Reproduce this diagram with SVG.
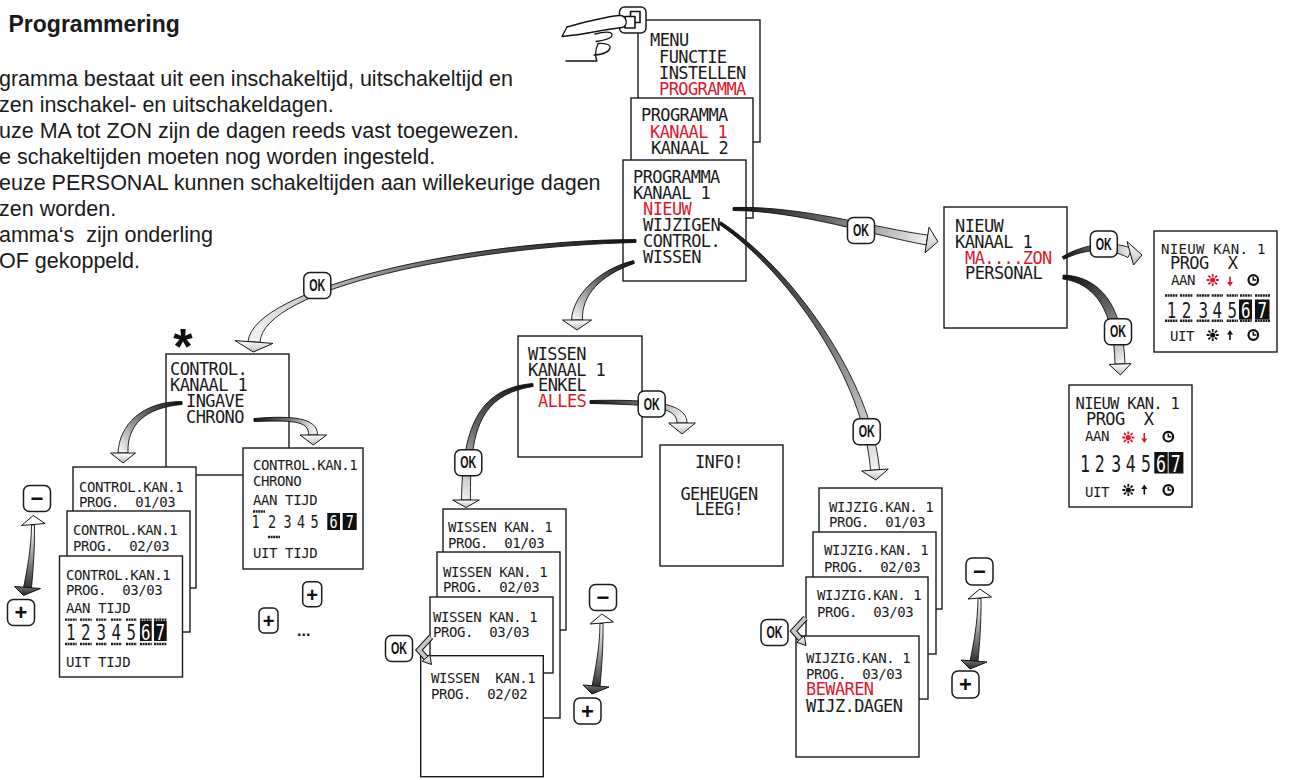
<svg xmlns="http://www.w3.org/2000/svg" width="1290" height="780" viewBox="0 0 1290 780">
<defs>
<style>
.scr{fill:#fff;stroke:#1a1a1a;stroke-width:1.4}
.lb{font-family:"DejaVu Sans Mono","Liberation Mono",monospace;font-size:17px;letter-spacing:-0.6px;fill:#1a1a1a}
.lm{font-family:"DejaVu Sans Mono","Liberation Mono",monospace;font-size:14px;letter-spacing:-0.4px;fill:#1a1a1a}
.r{fill:#e0162b}
.dg{font-family:"DejaVu Sans Mono","Liberation Mono",monospace;text-anchor:middle;fill:#1a1a1a}
.w{fill:#fff}
.blk{fill:#111}
.body{font-family:"Liberation Sans",Arial,sans-serif;font-size:21.5px;fill:#1a1a1a}
.title{font-family:"Liberation Sans",Arial,sans-serif;font-size:23px;font-weight:bold;fill:#1a1a1a}
.btn{fill:#fff;stroke:#1a1a1a;stroke-width:1.5}
.okt{font-family:"Liberation Sans",Arial,sans-serif;font-weight:bold;font-size:16px;fill:#111}
.pm{font-family:"Liberation Sans",Arial,sans-serif;font-weight:bold;font-size:22px;fill:#111;text-anchor:middle}
.band{stroke:#111;stroke-width:0.9}
.head{fill:url(#hg);stroke:#111;stroke-width:1}
.dash{stroke:#1a1a1a;stroke-width:2.4;stroke-dasharray:2 0.6;fill:none}
.ln{fill:none;stroke:#111;stroke-width:1.3;stroke-linecap:round;stroke-linejoin:round}
</style>
<linearGradient id="gb"><stop offset="0" stop-color="#111"/><stop offset="0.5" stop-color="#6a6a6a"/><stop offset="1" stop-color="#f2f2f2"/></linearGradient>
<linearGradient id="gA1" href="#gb" gradientUnits="userSpaceOnUse" x1="636" y1="241" x2="254" y2="342"/>
<linearGradient id="gA2" href="#gb" gradientUnits="userSpaceOnUse" x1="634" y1="262" x2="577" y2="320"/>
<linearGradient id="gA3" href="#gb" gradientUnits="userSpaceOnUse" x1="733" y1="209" x2="927" y2="240"/>
<linearGradient id="gA4" href="#gb" gradientUnits="userSpaceOnUse" x1="720" y1="223" x2="875" y2="470"/>
<linearGradient id="gA5" href="#gb" gradientUnits="userSpaceOnUse" x1="590" y1="402" x2="682" y2="423"/>
<linearGradient id="gA6" href="#gb" gradientUnits="userSpaceOnUse" x1="533" y1="385" x2="466" y2="500"/>
<linearGradient id="gA7" href="#gb" gradientUnits="userSpaceOnUse" x1="1063" y1="258" x2="1130" y2="253"/>
<linearGradient id="gA8" href="#gb" gradientUnits="userSpaceOnUse" x1="1063" y1="277" x2="1120" y2="364"/>
<linearGradient id="gA9" href="#gb" gradientUnits="userSpaceOnUse" x1="182" y1="403" x2="123" y2="453"/>
<linearGradient id="gA10" href="#gb" gradientUnits="userSpaceOnUse" x1="254" y1="420" x2="313" y2="435"/>
<linearGradient id="hg" x1="0" y1="0" x2="0" y2="1"><stop offset="0" stop-color="#fff"/><stop offset="1" stop-color="#bdbdbd"/></linearGradient>
<linearGradient id="dgr" x1="0" y1="0" x2="0" y2="1"><stop offset="0" stop-color="#fff"/><stop offset="1" stop-color="#333"/></linearGradient>
<linearGradient id="dk" x1="0" y1="0" x2="0" y2="1"><stop offset="0" stop-color="#777"/><stop offset="1" stop-color="#222"/></linearGradient>
<g id="sun" fill="currentColor" stroke="currentColor"><circle r="2.6" stroke="none"/><path d="M0,-6V-3.2M0,6V3.2M-6,0H-3.2M6,0H3.2M-4.3,-4.3L-2.3,-2.3M4.3,4.3L2.3,2.3M4.3,-4.3L2.3,-2.3M-4.3,4.3L-2.3,2.3" stroke-width="1.8"/></g>
<g id="adn" fill="currentColor" stroke="currentColor"><path d="M0,-5V1.5" stroke-width="1.6"/><path d="M-3,0.5H3L0,5Z" stroke="none"/></g>
<g id="aup" fill="currentColor" stroke="currentColor"><path d="M0,5V-1.5" stroke-width="1.6"/><path d="M-3,-0.5H3L0,-5Z" stroke="none"/></g>
<g id="clk"><circle r="4.8" fill="#fff" stroke="#111" stroke-width="2.2"/><path d="M0,-3V0H3" fill="none" stroke="#111" stroke-width="1.6"/></g>
<g id="dbl">
<path class="band" fill="url(#dgr)" d="M31.5,525 C31.2,550 27,570 23.5,588 L31.5,588 C33,570 34.8,550 34.5,525 Z"/>
<path fill="#fff" stroke="#111" stroke-width="1" d="M33.3,515.5 L21.5,525.5 L45,523.5 Z"/>
<path fill="url(#dk)" stroke="#111" stroke-width="1" d="M14.5,586.5 L40.5,588.5 L23.5,595.5 Z"/>
</g>
<g id="bent">
<path d="M431,637 L419,650 L426,658" fill="none" stroke="#111" stroke-width="6"/>
<path d="M431,637 L419,650 L426,658" fill="none" stroke="#c8c8c8" stroke-width="4"/>
<path class="head" d="M429.8,654.7 L422.2,661.3 L431.5,664.5 Z"/>
</g>
</defs>
<rect width="1290" height="780" fill="#fff"/>

<g id="intro">
<text class="title" x="8.5" y="32">Programmering</text>
<text class="body" x="-1" y="85.5">gramma bestaat uit een inschakeltijd, uitschakeltijd en</text>
<text class="body" x="-1" y="111.5">zen inschakel- en uitschakeldagen.</text>
<text class="body" x="-1" y="137.5">uze MA tot ZON zijn de dagen reeds vast toegewezen.</text>
<text class="body" x="-1" y="163.5">e schakeltijden moeten nog worden ingesteld.</text>
<text class="body" x="-1" y="189.5">euze PERSONAL kunnen schakeltijden aan willekeurige dagen</text>
<text class="body" x="-1" y="215.5">zen worden.</text>
<text class="body" x="-1" y="241.5">amma‘s&#160; zijn onderling</text>
<text class="body" x="-1" y="267.5">OF gekoppeld.</text>
</g>

<g id="scr-menu"><rect class="scr" x="638" y="20" width="122" height="122"/>
<text class="lb" x="650" y="46">MENU</text><text class="lb" x="659" y="62.5">FUNCTIE</text><text class="lb" x="659" y="79">INSTELLEN</text><text class="lb r" x="659" y="95">PROGRAMMA</text></g>
<g id="scr-programma"><rect class="scr" x="631" y="98" width="122" height="120"/>
<text class="lb" x="641" y="121">PROGRAMMA</text><text class="lb r" x="650" y="137.5">KANAAL 1</text><text class="lb" x="651" y="154">KANAAL 2</text></g>
<g id="scr-kanaal"><rect class="scr" x="623" y="160" width="123" height="121"/>
<text class="lb" x="633" y="183">PROGRAMMA</text><text class="lb" x="633" y="199">KANAAL 1</text><text class="lb r" x="643" y="215">NIEUW</text><text class="lb" x="643" y="231">WIJZIGEN</text><text class="lb" x="643" y="247">CONTROL.</text><text class="lb" x="643" y="262.5">WISSEN</text></g>

<g id="hand" class="ln">
<rect class="btn" x="619.5" y="7" width="26.5" height="26" rx="5"/>
<rect x="630.5" y="11.5" width="9.5" height="11" fill="#fff" stroke-width="1.6"/>
<rect x="625" y="16.5" width="10" height="11.5" fill="#fff" stroke-width="1.6"/>
<path fill="#fff" d="M567,27 C585,22 604,17 619,15.5 C627,15 629,26 622,27.5 C610,29 598,31 588,33"/>
<path d="M567,27 L562,36.5 C572,35.5 581,34.5 588,33"/>
<path d="M595,34 C604,31.5 612,31 612,35 C612,39 603,40.5 596,41.5"/>
<path d="M598,43.5 C605,43 611,44.5 610,48 C609,52.5 601,54.5 594,55"/>
<path d="M566,61 L597,61 C595,57 595,50 598,44"/>
</g>

<g id="scr-nieuw"><rect class="scr" x="944" y="207" width="123" height="121"/>
<text class="lb" x="955" y="232">NIEUW</text><text class="lb" x="955" y="248">KANAAL 1</text><text class="lb r" x="965" y="263.5">MA....ZON</text><text class="lb" x="965" y="279">PERSONAL</text></g>

<g id="scr-nieuw-mazon"><rect class="scr" x="1154" y="231" width="123" height="121"/>
<text class="lm" x="1161" y="254" textLength="104" lengthAdjust="spacing">NIEUW KAN. 1</text>
<text class="lb" x="1170" y="269">PROG&#160;&#160;X</text>
<text class="lm" x="1171" y="285">AAN</text>
<use href="#sun" x="1212.7" y="280" style="color:#e0162b"/><use href="#adn" x="1230" y="281.5" style="color:#e0162b"/><use href="#clk" x="1253.3" y="280"/>
<path class="dash" d="M1165,295.5H1178M1180,295.5H1193M1196.7,295.5H1210M1211.7,295.5H1223M1226.7,295.5H1238M1240,295.5H1251.7M1255,295.5H1270M1165,320.8H1178M1180,320.8H1193M1196.7,320.8H1210M1211.7,320.8H1223M1226.7,320.8H1238M1240,320.8H1251.7M1255,320.8H1270"/>
<rect class="blk" x="1239" y="299.5" width="13" height="20"/><rect class="blk" x="1255" y="299.5" width="14.5" height="20"/>
<g transform="translate(0,318.3) scale(0.72,1)" style="font-size:22px">
<text class="dg" x="1627.1" y="0">1</text><text class="dg" x="1647.9" y="0">2</text><text class="dg" x="1671.3" y="0">3</text><text class="dg" x="1690.7" y="0">4</text><text class="dg" x="1711.5" y="0">5</text><text class="dg w" x="1730.3" y="0">6</text><text class="dg w" x="1753.2" y="0">7</text>
</g>
<text class="lm" x="1170" y="340.5">UIT</text>
<use href="#sun" x="1212.7" y="335" style="color:#111"/><use href="#aup" x="1230" y="335" style="color:#111"/><use href="#clk" x="1253.3" y="335"/>
</g>

<g id="scr-nieuw-personal"><rect class="scr" x="1069" y="385" width="123" height="122"/>
<text class="lm" x="1075.5" y="409" textLength="104" lengthAdjust="spacing" style="font-size:15.5px">NIEUW KAN. 1</text>
<text class="lb" x="1086" y="425">PROG&#160;&#160;X</text>
<text class="lm" x="1085" y="440.7">AAN</text>
<use href="#sun" x="1128.3" y="437.5" style="color:#e0162b"/><use href="#adn" x="1144.3" y="438" style="color:#e0162b"/><use href="#clk" x="1168.3" y="436.7"/>
<rect class="blk" x="1154.3" y="452" width="13.4" height="21.5"/><rect class="blk" x="1168.6" y="452" width="14.8" height="21.5"/>
<g transform="translate(0,471.7) scale(0.72,1)" style="font-size:23px">
<text class="dg" x="1506.9" y="0">1</text><text class="dg" x="1527.4" y="0">2</text><text class="dg" x="1550.4" y="0">3</text><text class="dg" x="1570.6" y="0">4</text><text class="dg" x="1591.7" y="0">5</text><text class="dg w" x="1612.5" y="0">6</text><text class="dg w" x="1633.1" y="0">7</text>
</g>
<text class="lm" x="1085" y="496.7">UIT</text>
<use href="#sun" x="1128.3" y="490" style="color:#111"/><use href="#aup" x="1144.3" y="489.5" style="color:#111"/><use href="#clk" x="1168.3" y="490"/>
</g>

<g id="scr-control"><rect class="scr" x="166" y="354" width="123" height="121"/>
<text class="lb" x="170" y="375">CONTROL.</text><text class="lb" x="170" y="391">KANAAL 1</text><text class="lb" x="186" y="407">INGAVE</text><text class="lb" x="186" y="423">CHRONO</text></g>
<text id="star" x="183" y="364" text-anchor="middle" style="font-family:'Liberation Sans',Arial,sans-serif;font-size:50px;font-weight:bold;fill:#111">*</text>

<g id="scr-control-01"><rect class="scr" x="73" y="467" width="123" height="121"/>
<text class="lm" x="79" y="492">CONTROL.KAN.1</text><text class="lm" x="79" y="507">PROG.&#160; 01/03</text></g>
<g id="scr-control-02"><rect class="scr" x="67" y="511" width="123" height="121"/>
<text class="lm" x="73" y="535">CONTROL.KAN.1</text><text class="lm" x="73" y="551">PROG.&#160; 02/03</text></g>
<g id="scr-control-03"><rect class="scr" x="59.5" y="556" width="123" height="121"/>
<text class="lm" x="66" y="580">CONTROL.KAN.1</text><text class="lm" x="66" y="595">PROG.&#160; 03/03</text>
<text class="lm" x="66" y="613">AAN TIJD</text>
<path class="dash" d="M65,619.6H76.7M80,619.6H91.7M96,619.6H106.7M111,619.6H121.7M126,619.6H136.7M140,619.6H151.7M154,619.6H166.7M65,644H76.7M80,644H91.7M96,644H106.7M111,644H121.7M126,644H136.7M140,644H151.7M154,644H166.7"/>
<rect class="blk" x="140" y="621" width="11.7" height="20"/><rect class="blk" x="154" y="621" width="12.7" height="20"/>
<g transform="translate(0,640) scale(0.72,1)" style="font-size:22px">
<text class="dg" x="98.3" y="0">1</text><text class="dg" x="119.2" y="0">2</text><text class="dg" x="140.7" y="0">3</text><text class="dg" x="161.5" y="0">4</text><text class="dg" x="182.4" y="0">5</text><text class="dg w" x="202.5" y="0">6</text><text class="dg w" x="222.6" y="0">7</text>
</g>
<text class="lm" x="66" y="667">UIT TIJD</text></g>

<g id="scr-chrono"><rect class="scr" x="243" y="448" width="120" height="121"/>
<text class="lm" x="253" y="470">CONTROL.KAN.1</text><text class="lm" x="253" y="486">CHRONO</text><text class="lm" x="253" y="505">AAN TIJD</text>
<path class="dash" d="M253,511.5H265M268,537H280"/>
<rect class="blk" x="327.3" y="513" width="12.7" height="17"/><rect class="blk" x="342.7" y="513" width="14" height="17"/>
<g transform="translate(0,528.3) scale(0.75,1)" style="font-size:18px">
<text class="dg" x="340.7" y="0">1</text><text class="dg" x="362.7" y="0">2</text><text class="dg" x="383.3" y="0">3</text><text class="dg" x="401.3" y="0">4</text><text class="dg" x="419.3" y="0">5</text><text class="dg w" x="444.9" y="0">6</text><text class="dg w" x="466.3" y="0">7</text>
</g>
<text class="lm" x="253" y="558">UIT TIJD</text></g>

<g id="scr-wissen"><rect class="scr" x="518" y="336" width="124" height="121"/>
<text class="lb" x="528" y="360">WISSEN</text><text class="lb" x="528" y="376">KANAAL 1</text><text class="lb" x="538" y="391">ENKEL</text><text class="lb r" x="538" y="407">ALLES</text></g>

<g id="scr-info"><rect class="scr" x="660" y="445" width="123" height="121"/>
<text class="lb" x="719" y="468" text-anchor="middle">INFO!</text><text class="lb" x="719" y="500" text-anchor="middle">GEHEUGEN</text><text class="lb" x="719" y="515" text-anchor="middle">LEEG!</text></g>

<g id="scr-wissen-01"><rect class="scr" x="443" y="509" width="123" height="121"/>
<text class="lm" x="448" y="532">WISSEN KAN. 1</text><text class="lm" x="448" y="548">PROG.&#160; 01/03</text></g>
<g id="scr-wissen-02"><rect class="scr" x="437" y="552" width="123" height="166"/>
<text class="lm" x="443" y="577">WISSEN KAN. 1</text><text class="lm" x="443" y="592">PROG.&#160; 02/03</text></g>
<g id="scr-wissen-03"><rect class="scr" x="430" y="597" width="123" height="76"/>
<text class="lm" x="433" y="622">WISSEN KAN. 1</text><text class="lm" x="433" y="637">PROG.&#160; 03/03</text></g>
<g id="scr-wissen-04"><rect class="scr" x="420.7" y="655.7" width="122.6" height="121"/>
<text class="lm" x="431" y="683">WISSEN&#160; KAN.1</text><text class="lm" x="431" y="699">PROG.&#160; 02/02</text></g>

<g id="scr-wijzig-01"><rect class="scr" x="819" y="488" width="123" height="121"/>
<text class="lm" x="829" y="512">WIJZIG.KAN. 1</text><text class="lm" x="829" y="527">PROG.&#160; 01/03</text></g>
<g id="scr-wijzig-02"><rect class="scr" x="813" y="532" width="123" height="122"/>
<text class="lm" x="824" y="555">WIJZIG.KAN. 1</text><text class="lm" x="824" y="572">PROG.&#160; 02/03</text></g>
<g id="scr-wijzig-03"><rect class="scr" x="806" y="577" width="122" height="122"/>
<text class="lm" x="817" y="600">WIJZIG.KAN. 1</text><text class="lm" x="817" y="617">PROG.&#160; 03/03</text></g>
<g id="scr-wijzig-04"><rect class="scr" x="796" y="636" width="123" height="121"/>
<text class="lm" x="806" y="663">WIJZIG.KAN. 1</text><text class="lm" x="806" y="679">PROG.&#160; 03/03</text><text class="lb r" x="806" y="695">BEWAREN</text><text class="lb" x="806" y="712">WIJZ.DAGEN</text></g>

<g id="connectors">
<path class="band" fill="url(#gA1)" d="M636,239.5 C470,240 253.5,287.7 248,341.6 L260,342.4 C262.5,288.3 470,246 636,242.5 Z"/>
<path class="head" d="M235.1,340.6 L272.9,343.4 L253.3,352 Z"/>
<path class="band" fill="url(#gA2)" d="M633.6,260.6 C599.2,269.1 572.8,295 571.5,320 L582.5,320 C581.2,295 600.8,274.9 634.4,263.4 Z"/>
<path class="head" d="M562.5,320 L591.5,320 L577,330 Z"/>
<path class="band" fill="url(#gA3)" d="M733,210.5 C800,210.7 874.4,235.9 926.2,244.9 L927.8,235.1 C875.6,228.1 800,205.3 733,207.5 Z"/>
<path class="head" d="M925,252.8 L929,227.2 L937.9,241.7 Z"/>
<path class="band" fill="url(#gA4)" d="M719.2,224.2 C788.6,272.1 864.5,380.3 870.5,470.4 L879.5,469.6 C871.5,379.7 791.4,267.9 720.8,221.8 Z"/>
<path class="head" d="M861.7,471 L888.3,469 L875.8,480 Z"/>
<path class="band" fill="url(#gA5)" d="M590,403.5 C640,404.5 678,405 677,423 L687,423 C687,401 645,399.5 590,400.5 Z"/>
<path class="head" d="M668.7,423 L695.3,423 L682,434 Z"/>
<path class="band" fill="url(#gA6)" d="M532.8,383.5 C477,388.5 462.5,430 461.5,500 L470.5,500 C469.5,430 480.3,394.5 533.2,386.5 Z"/>
<path class="head" d="M452.7,500 L479.3,500 L466,507.5 Z"/>
<path class="band" fill="url(#gA7)" d="M1063.7,259.3 C1086.2,248.2 1108.4,247.5 1128,257.6 L1132,248.4 C1111.6,240.5 1083.8,243.8 1062.3,256.7 Z"/>
<path class="head" d="M1127,241.5 L1133.5,265 L1142,255 Z"/>
<path class="band" fill="url(#gA8)" d="M1062.8,279 C1094.7,283 1114,310.2 1115,364.2 L1125,363.8 C1123,305 1100,276.5 1063.2,275 Z"/>
<path class="head" d="M1109,364.4 L1131,363.6 L1120.4,375 Z"/>
<path class="band" fill="url(#gA9)" d="M181.9,401.5 C142,401.5 119.2,425 118,453 L128,453 C126.8,425 145.1,407.5 182.1,404.5 Z"/>
<path class="head" d="M110.5,453 L135.5,453 L123,463 Z"/>
<path class="band" fill="url(#gA10)" d="M254.1,421.5 C290.1,420.5 309.5,420 308.5,435 L317.5,435 C318,417 289.9,415.5 253.9,418.5 Z"/>
<path class="head" d="M300,435 L326.6,435 L313.3,445 Z"/>
<use href="#bent"/>
<use href="#bent" transform="translate(374.5,-19)"/>
<use href="#dbl"/>
<use href="#dbl" transform="translate(568.5,98.5)"/>
<use href="#dbl" transform="translate(946.5,73.5)"/>
</g>

<g id="ok-buttons">
<g id="ok-control"><rect class="btn" x="303.8" y="272.5" width="27" height="26" rx="6"/><text class="okt" x="309.3" y="291.2" textLength="16" lengthAdjust="spacingAndGlyphs">OK</text></g>
<g id="ok-nieuw"><rect class="btn" x="847.5" y="217.5" width="27" height="26" rx="6"/><text class="okt" x="853" y="236.2" textLength="16" lengthAdjust="spacingAndGlyphs">OK</text></g>
<g id="ok-wijzigen"><rect class="btn" x="853.2" y="418.7" width="27" height="26" rx="6"/><text class="okt" x="858.7" y="437.4" textLength="16" lengthAdjust="spacingAndGlyphs">OK</text></g>
<g id="ok-alles"><rect class="btn" x="638.2" y="391" width="27" height="26" rx="6"/><text class="okt" x="643.7" y="409.7" textLength="16" lengthAdjust="spacingAndGlyphs">OK</text></g>
<g id="ok-enkel"><rect class="btn" x="454.8" y="449.7" width="27" height="26" rx="6"/><text class="okt" x="460.3" y="468.4" textLength="16" lengthAdjust="spacingAndGlyphs">OK</text></g>
<g id="ok-mazon"><rect class="btn" x="1090.3" y="231" width="27" height="26" rx="6"/><text class="okt" x="1095.8" y="249.7" textLength="16" lengthAdjust="spacingAndGlyphs">OK</text></g>
<g id="ok-personal"><rect class="btn" x="1104.5" y="318.7" width="27" height="26" rx="6"/><text class="okt" x="1110" y="337.4" textLength="16" lengthAdjust="spacingAndGlyphs">OK</text></g>
<g id="ok-wissen"><rect class="btn" x="385.5" y="635.5" width="27" height="26" rx="6"/><text class="okt" x="391" y="654.2" textLength="16" lengthAdjust="spacingAndGlyphs">OK</text></g>
<g id="ok-wijzig"><rect class="btn" x="761" y="619.5" width="27" height="26" rx="6"/><text class="okt" x="766.5" y="638.2" textLength="16" lengthAdjust="spacingAndGlyphs">OK</text></g>
</g>

<g id="pm-buttons">
<g id="btn-c-minus"><rect class="btn" x="23.5" y="485.5" width="27" height="26" rx="6"/><text class="pm" x="37" y="506">−</text></g>
<g id="btn-c-plus"><rect class="btn" x="7.5" y="599.5" width="27" height="26" rx="6"/><text class="pm" x="21" y="620">+</text></g>
<g id="btn-w-minus"><rect class="btn" x="589.5" y="584.5" width="27" height="26" rx="6"/><text class="pm" x="603" y="605">−</text></g>
<g id="btn-w-plus"><rect class="btn" x="574" y="698" width="27" height="26" rx="6"/><text class="pm" x="587.5" y="718.5">+</text></g>
<g id="btn-j-minus"><rect class="btn" x="966" y="558" width="27" height="27" rx="6"/><text class="pm" x="979.5" y="579">−</text></g>
<g id="btn-j-plus"><rect class="btn" x="952" y="671" width="27" height="27" rx="6"/><text class="pm" x="965.5" y="692">+</text></g>
<g id="btn-ch-plus1"><rect class="btn" x="302.7" y="581.7" width="19" height="25" rx="5"/><text class="pm" x="312.2" y="601.5" style="font-size:20px">+</text></g>
<g id="btn-ch-plus2"><rect class="btn" x="259" y="608" width="19" height="25" rx="5"/><text class="pm" x="268.5" y="627.8" style="font-size:20px">+</text></g>
<text x="297" y="636" style="font-family:'Liberation Sans',Arial,sans-serif;font-size:16px;font-weight:bold;fill:#111">...</text>
</g>
</svg>
